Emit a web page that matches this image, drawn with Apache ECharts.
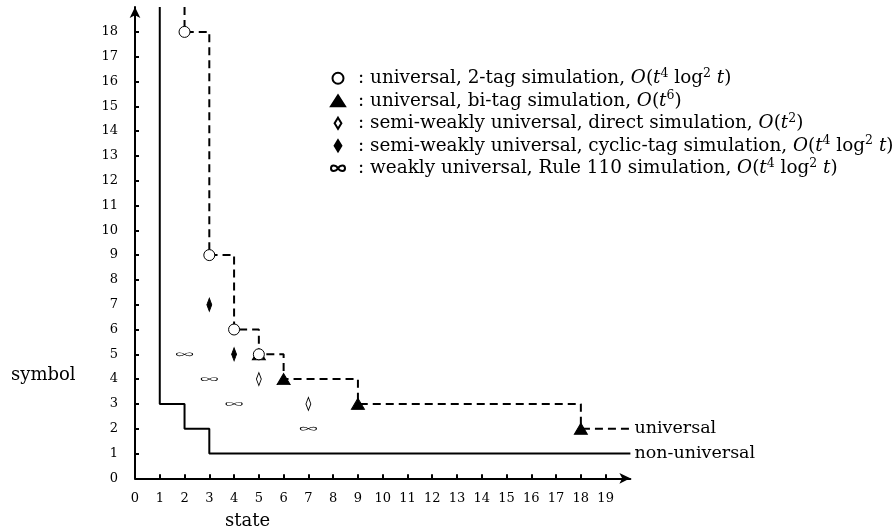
<!DOCTYPE html>
<html><head><meta charset="utf-8">
<script src="https://cdn.jsdelivr.net/npm/echarts@6/dist/echarts.min.js"></script>
<style>html,body{margin:0;padding:0;background:#fff}#c{width:895px;height:531px}</style>
</head><body><div id="c"></div>
<script>
const xTickValues = [0,1,2,3,4,5,6,7,8,9,10,11,12,13,14,15,16,17,18,19];
const yTickValues = [0,1,2,3,4,5,6,7,8,9,10,11,12,13,14,15,16,17,18];
const nonUniversal = [[1,19],[1,3],[2,3],[2,2],[3,2],[3,1],[20,1]];
const universal = [[2,19],[2,18],[3,18],[3,9],[4,9],[4,6],[5,6],[5,5],[6,5],[6,4],[9,4],[9,3],[18,3],[18,2],[20,2]];
const twoTag = [[2,18],[3,9],[4,6],[5,5]];
const biTag = [[5,5],[6,4],[9,3],[18,2]];
const direct = [[5,4],[7,3]];
const cyclicTag = [[3,7],[4,5]];
const rule110 = [[2,5],[3,4],[4,3],[7,2]];
const seriesNames = ['universal, 2-tag simulation','universal, bi-tag simulation','semi-weakly universal, direct simulation','semi-weakly universal, cyclic-tag simulation','weakly universal, Rule 110 simulation'];
const complexities = ['{i|O}({i|t}{s|4} log{s|2} {i|t})','{i|O}({i|t}{s|6})','{i|O}({i|t}{s|2})','{i|O}({i|t}{s|4} log{s|2} {i|t})','{i|O}({i|t}{s|4} log{s|2} {i|t})'];

const FONT = 'DejaVu Serif';
const BIG = 17.5;
const LEG = 18.4;
const diamondPath = 'path://M4,0L8,6.5L4,13L0,6.5Z';
const infPath = 'path://M10,5C12,2 14,1 16.5,1C18.5,1 20,2.8 20,5C20,7.2 18.5,9 16.5,9C14,9 12,8 10,5C8,2 6,1 3.5,1C1.5,1 0,2.8 0,5C0,7.2 1.5,9 3.5,9C6,9 8,8 10,5Z';

const chart = echarts.init(document.getElementById('c'));
const axisCommon = {type:'value', min:0, max:20, interval:1, splitLine:{show:false}};
const xMain = Object.assign({}, axisCommon, {
  axisLine:{show:true, lineStyle:{color:'#000', width:2}, symbol:['none','arrow'], symbolSize:[8,11], symbolOffset:[0,0]},
  axisTick:{show:true, inside:true, length:4, lineStyle:{color:'#000', width:2}, customValues:xTickValues.slice(1)},
  axisLabel:{show:true, margin:14, color:'#000', fontFamily:FONT, fontSize:13, customValues:xTickValues}
});
const xSub = Object.assign({}, axisCommon, {
  axisLine:{show:false},
  axisTick:{show:true, inside:false, length:4, lineStyle:{color:'#000', width:2}, customValues:xTickValues.slice(1)},
  axisLabel:{show:false}
});
const yAxisCommon = Object.assign({}, axisCommon, {max:19});
const yMain = Object.assign({}, yAxisCommon, {
  axisLine:{show:true, lineStyle:{color:'#000', width:2}, symbol:['none','arrow'], symbolSize:[8,11]},
  axisTick:{show:true, inside:true, length:4, lineStyle:{color:'#000', width:2}, customValues:yTickValues.slice(1)},
  axisLabel:{show:true, margin:17, color:'#000', fontFamily:FONT, fontSize:13, customValues:yTickValues}
});
const ySub = Object.assign({}, yAxisCommon, {
  axisLine:{show:false},
  axisTick:{show:true, inside:false, length:4, lineStyle:{color:'#000', width:2}, customValues:yTickValues.slice(1)},
  axisLabel:{show:false}
});

function scatter(name, data, symbol, size, fill, z, bw) {
  return {name, type:'scatter', data, symbol, symbolSize:size, symbolKeepAspect:true, z,
    itemStyle:{color:fill, borderColor:'#000', borderWidth:bw, opacity:1}, emphasis:{disabled:true}};
}

chart.setOption({
  animation:false,
  backgroundColor:'#fff',
  grid:{left:135, right:264.6, top:7.1, bottom:52.7},
  xAxis:[xMain, xSub],
  yAxis:[yMain, ySub],
  legend:{
    orient:'vertical', left:325, top:62, itemWidth:14, itemHeight:11, itemGap:0,
    data:seriesNames, selectedMode:false,
    formatter: function(name){ const k = seriesNames.indexOf(name); return '{c|:} ' + name + ', ' + complexities[k]; },
    textStyle:{color:'#000', fontFamily:FONT, fontSize:LEG, lineHeight:22.5,
      rich:{c:{padding:[0,0,0,8], fontFamily:FONT, fontSize:LEG, lineHeight:22.5},
            i:{fontStyle:'italic', fontFamily:FONT, fontSize:LEG, lineHeight:22.5},
            s:{fontSize:12.5, fontFamily:FONT, verticalAlign:'top', lineHeight:14}}}
  },
  graphic:[
    {type:'text', left:11, top:366, style:{text:'symbol', font:'18px "DejaVu Serif"', fill:'#000'}},
    {type:'text', left:225, top:512, style:{text:'state', font:'18px "DejaVu Serif"', fill:'#000'}}
  ],
  series:[
    {name:'non-universal', type:'line', data:nonUniversal, showSymbol:false, symbol:'none', z:2,
      lineStyle:{color:'#000', width:2, type:'solid'},
      endLabel:{show:true, formatter:'non-universal', distance:4, color:'#000', fontFamily:FONT, fontSize:BIG}},
    {name:'universal', type:'line', data:universal, showSymbol:false, symbol:'none', z:2,
      lineStyle:{color:'#000', width:2, type:[8,5]},
      endLabel:{show:true, formatter:'universal', distance:4, color:'#000', fontFamily:FONT, fontSize:BIG}},
    scatter(seriesNames[1], biTag, 'triangle', [13,11], '#000', 3, 1),
    scatter(seriesNames[0], twoTag, 'circle', 11, '#fff', 4, 1),
    scatter(seriesNames[2], direct, diamondPath, [8,13], '#fff', 4, 1),
    scatter(seriesNames[3], cyclicTag, diamondPath, [8,13], '#000', 4, 1),
    scatter(seriesNames[4], rule110, infPath, [16,8], '#fff', 4, 0.8)
  ]
});
</script></body></html>
